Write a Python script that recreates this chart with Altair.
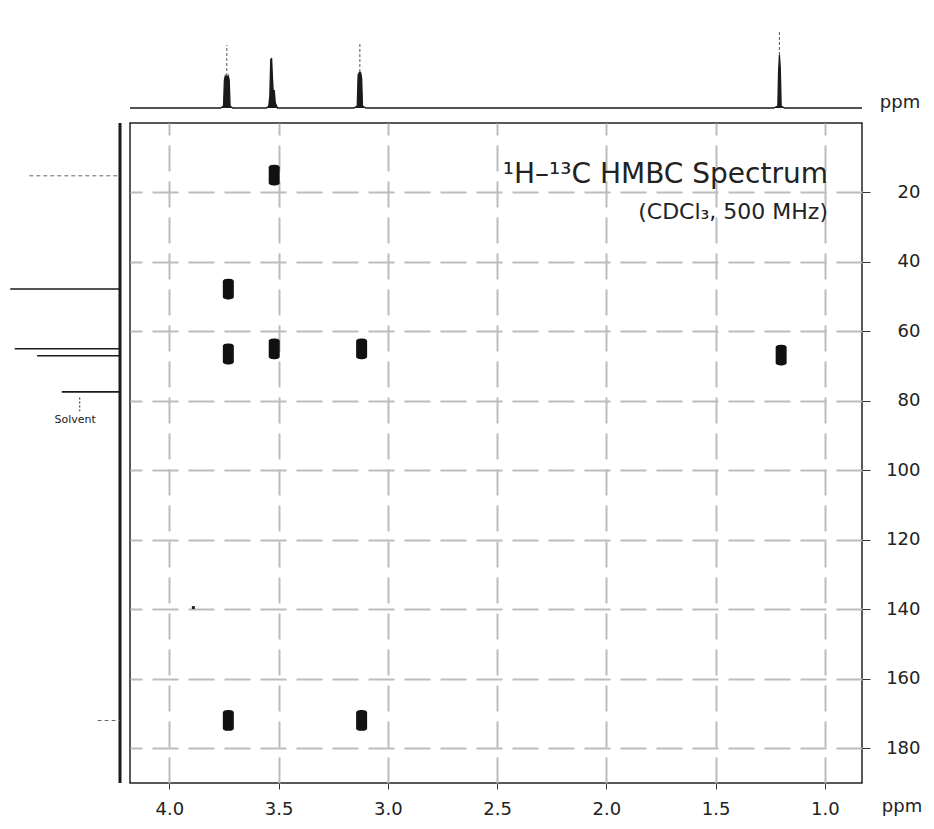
import altair as alt
import pandas as pd

# ---------------- data ----------------
# 1H projection (top trace): chemical shift (ppm) and intensity
h_ppm = [4.18, 3.765, 3.752, 3.748, 3.744, 3.740, 3.737, 3.734, 3.730, 3.726, 3.722, 3.710,
         3.555, 3.545, 3.540, 3.536, 3.532, 3.528, 3.524, 3.520, 3.515, 3.505,
         3.155, 3.140, 3.136, 3.132, 3.128, 3.124, 3.120, 3.116, 3.100,
         1.235, 1.215, 1.212, 1.208, 1.204, 1.200, 1.185, 0.83]
h_int = [0.0, 0.0, 0.02, 0.28, 0.32, 0.30, 0.32, 0.30, 0.32, 0.28, 0.02, 0.0,
         0.0, 0.02, 0.12, 0.48, 0.50, 0.30, 0.14, 0.18, 0.05, 0.0,
         0.0, 0.02, 0.33, 0.35, 0.36, 0.35, 0.30, 0.02, 0.0,
         0.0, 0.02, 0.35, 0.53, 0.40, 0.02, 0.0, 0.0]
# faint tips above the 1H peaks
tip_ppm = [3.737, 3.128, 1.208]
tip_low = [0.32, 0.36, 0.53]
tip_high = [0.63, 0.64, 0.78]

# 13C projection (left trace)
c_strong_ppm = [47.8, 65.0, 67.0, 77.4]
c_strong_int = [0.98, 0.94, 0.74, 0.52]
c_weak_ppm = [15.2, 172.0]
c_weak_int = [0.81, 0.20]
solvent_label = ["Solvent"]
solvent_int = [0.36]
solvent_ppm_from = [79.0]
solvent_ppm_to = [83.0]
solvent_text_int = [0.40]
solvent_text_ppm = [85.5]

# HMBC cross peaks (1H ppm, 13C ppm)
cross_h = [3.52, 3.73, 3.73, 3.52, 3.12, 1.20, 3.73, 3.12]
cross_c = [15.0, 47.8, 66.5, 65.0, 65.0, 66.8, 172.0, 172.0]
artifact_h = [3.89]
artifact_c = [139.5]

x_ticks = [4.0, 3.5, 3.0, 2.5, 2.0, 1.5, 1.0]
y_ticks = [20, 40, 60, 80, 100, 120, 140, 160, 180]
x_domain = [4.18, 0.83]
y_domain = [0, 190]

title_main = "\u00b9H\u2013\u00b9\u00b3C HMBC Spectrum"
title_sub = "(CDCl\u2083, 500 MHz)"

# ---------------- layout ----------------
W, H = 732, 660
LW, TH = 112, 105
FONT = "DejaVu Sans"
INK = "#1a1a1a"
NOFRAME = alt.ViewBackground(stroke="transparent", strokeWidth=0)

xs = alt.Scale(domain=x_domain, nice=False, zero=False)
ys = alt.Scale(domain=y_domain, reverse=True, nice=False, zero=False)

# ---------------- top 1H trace ----------------
hdf = pd.DataFrame({"h": h_ppm, "i": h_int})
tipdf = pd.DataFrame({"h": tip_ppm, "lo": tip_low, "hi": tip_high})
top_y = alt.Scale(domain=[-0.05, 1.0], nice=False, zero=False)

top_area = alt.Chart(hdf).mark_area(
    color=INK, opacity=1, line={"color": INK, "strokeWidth": 1.3}, interpolate="linear"
).encode(
    x=alt.X("h:Q", scale=xs, axis=None),
    y=alt.Y("i:Q", scale=top_y, axis=None),
)
top_tips = alt.Chart(tipdf).mark_rule(color="#555", strokeWidth=1, strokeDash=[3, 2]).encode(
    x=alt.X("h:Q", scale=xs, axis=None),
    y=alt.Y("lo:Q", scale=top_y, axis=None),
    y2="hi:Q",
)
top_ppm = alt.Chart(pd.DataFrame({"t": ["ppm"]})).mark_text(
    font=FONT, fontSize=18, color="#222", align="center", baseline="middle"
).encode(text="t:N", x=alt.value(W + 38), y=alt.value(95))

top = alt.layer(top_area, top_tips, top_ppm).properties(width=W, height=TH, view=NOFRAME)

# ---------------- left 13C trace ----------------
ls = alt.Scale(domain=[1.0, 0.0], nice=False, zero=False)
strong = pd.DataFrame({"c": c_strong_ppm, "i": c_strong_int, "z": [0.0] * len(c_strong_ppm)})
weak = pd.DataFrame({"c": c_weak_ppm, "i": c_weak_int, "z": [0.0] * len(c_weak_ppm)})
base = pd.DataFrame({"z": [0.0], "c0": [y_domain[0]], "c1": [y_domain[1]]})
solv = pd.DataFrame({"i": solvent_int, "c0": solvent_ppm_from, "c1": solvent_ppm_to})
solv_t = pd.DataFrame({"i": solvent_text_int, "c": solvent_text_ppm, "t": solvent_label})

left_base = alt.Chart(base).mark_rule(color=INK, strokeWidth=3).encode(
    x=alt.X("z:Q", scale=ls, axis=None),
    y=alt.Y("c0:Q", scale=ys, axis=None),
    y2="c1:Q",
)
left_strong = alt.Chart(strong).mark_rule(color=INK, strokeWidth=1.6).encode(
    x=alt.X("i:Q", scale=ls, axis=None),
    x2="z:Q",
    y=alt.Y("c:Q", scale=ys, axis=None),
)
left_weak = alt.Chart(weak).mark_rule(color="#666", strokeWidth=1, strokeDash=[4, 3]).encode(
    x=alt.X("i:Q", scale=ls, axis=None),
    x2="z:Q",
    y=alt.Y("c:Q", scale=ys, axis=None),
)
left_solv = alt.Chart(solv).mark_rule(color="#444", strokeWidth=1.2, strokeDash=[2, 2]).encode(
    x=alt.X("i:Q", scale=ls, axis=None),
    y=alt.Y("c0:Q", scale=ys, axis=None),
    y2="c1:Q",
)
left_text = alt.Chart(solv_t).mark_text(
    font=FONT, fontSize=11, color="#222", align="center", baseline="middle"
).encode(
    x=alt.X("i:Q", scale=ls, axis=None),
    y=alt.Y("c:Q", scale=ys, axis=None),
    text="t:N",
)
left = alt.layer(left_base, left_strong, left_weak, left_solv, left_text).properties(
    width=LW, height=H, view=NOFRAME
)

# ---------------- main 2D map ----------------
grid_kw = dict(grid=True, gridColor="#bcbcbc", gridWidth=2, gridDash=[26, 10],
               domain=False, tickColor="#333", labelFont=FONT, labelFontSize=18,
               labelColor="#222", title=None)
xaxis = alt.Axis(values=x_ticks, format=".1f", tickSize=6, labelPadding=11, **grid_kw)
yaxis = alt.Axis(values=y_ticks, orient="right", tickSize=8, labelAlign="right",
                 labelPadding=50, labelBaseline="middle", **grid_kw)

BLOB = "M-0.5,-0.72 C-0.5,-1.02 0.5,-1.02 0.5,-0.72 L0.5,0.72 C0.5,1.02 -0.5,1.02 -0.5,0.72 Z"
cdf = pd.DataFrame({"h": cross_h, "c": cross_c})
adf = pd.DataFrame({"h": artifact_h, "c": artifact_c})

peaks = alt.Chart(cdf).mark_point(shape=BLOB, filled=True, color="#111", opacity=1, size=484).encode(
    x=alt.X("h:Q", scale=xs, axis=xaxis, title=None),
    y=alt.Y("c:Q", scale=ys, axis=yaxis, title=None),
)
artifact = alt.Chart(adf).mark_point(shape="square", filled=True, color="#222", opacity=1, size=9).encode(
    x=alt.X("h:Q", scale=xs, title=None),
    y=alt.Y("c:Q", scale=ys, title=None),
)
t1 = alt.Chart(pd.DataFrame({"t": [title_main]})).mark_text(
    font=FONT, fontSize=28, color="#222", align="right", baseline="middle"
).encode(text="t:N", x=alt.value(698), y=alt.value(52))
t2 = alt.Chart(pd.DataFrame({"t": [title_sub]})).mark_text(
    font=FONT, fontSize=22, color="#222", align="right", baseline="middle"
).encode(text="t:N", x=alt.value(698), y=alt.value(89))
bppm = alt.Chart(pd.DataFrame({"t": ["ppm"]})).mark_text(
    font=FONT, fontSize=18, color="#222", align="center", baseline="middle"
).encode(text="t:N", x=alt.value(W + 40), y=alt.value(H + 24))

main = alt.layer(peaks, artifact, t1, t2, bppm).properties(
    width=W, height=H, view=alt.ViewBackground(stroke="#222", strokeWidth=1.5)
)

# ---------------- spacer ----------------
spacer = alt.Chart(pd.DataFrame({"t": [""]})).mark_text(opacity=0).encode(
    text="t:N", x=alt.value(LW / 2), y=alt.value(TH / 2)
).properties(width=LW, height=TH, view=NOFRAME)

chart = alt.concat(spacer, top, left, main, columns=2, spacing=10, bounds="flush").properties(
    padding={"left": 0, "top": 0, "right": 0, "bottom": 0}
).configure_view(stroke="transparent").configure(background="white")

chart.save("out.html", embed_options={"renderer": "svg", "actions": False})
